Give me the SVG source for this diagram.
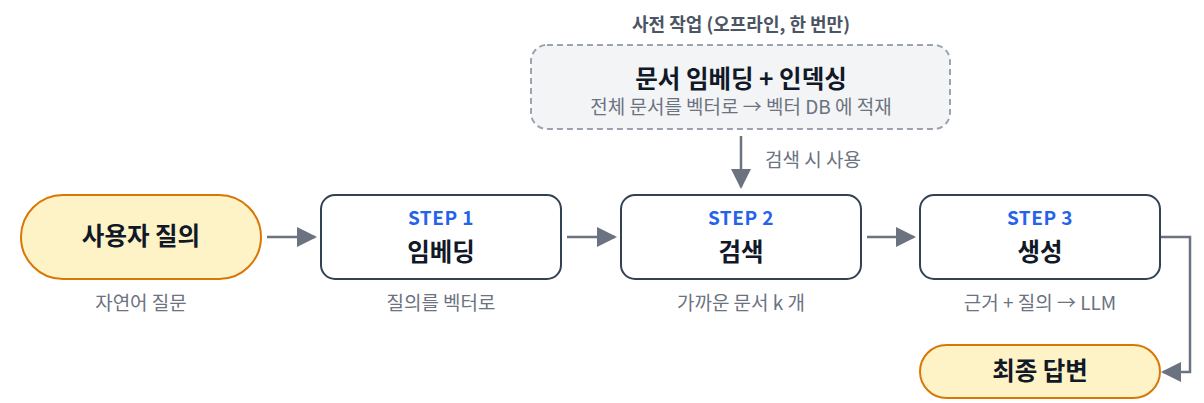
<svg xmlns="http://www.w3.org/2000/svg" width="1204" height="403" viewBox="0 0 1204 403">
<style>
text{font-family:"Noto Sans CJK KR","Noto Sans",sans-serif;text-anchor:middle}
.pill{fill:#fef3c7;stroke:#d97706;stroke-width:2}
.box{fill:#ffffff;stroke:#334155;stroke-width:2}
.pre{fill:#f3f4f6;stroke:#9ca3af;stroke-width:2;stroke-dasharray:6 4}
.title{font-size:24.5px;font-weight:700;fill:#111827}
.step{font-size:19px;font-weight:700;fill:#2563eb;letter-spacing:0.5px}
.sub{font-size:19px;fill:#6b7280}
.note{font-size:18px;font-weight:700;fill:#4b5563}
.conn{fill:none;stroke:#6b7280;stroke-width:2.5}
</style>
<defs>
<marker id="ah2" viewBox="0 0 10 10" refX="9" refY="5" markerWidth="20" markerHeight="20" markerUnits="userSpaceOnUse" orient="auto">
<path d="M0,0 L10,5 L0,10 z" fill="#6b7280"/>
</marker>
</defs>
<text class="note" x="741" y="31">사전 작업 (오프라인, 한 번만)</text>
<g id="pre">
<rect class="pre" x="531" y="45" width="419" height="84" rx="16"/>
<text class="title" x="741" y="88">문서 임베딩 + 인덱싱</text>
<text class="sub" x="741" y="114">전체 문서를 벡터로 → 벡터 DB 에 적재</text>
</g>
<g id="connectors">
<path class="conn" d="M741,136 V187" marker-end="url(#ah2)"/>
<path class="conn" d="M267,237 H315" marker-end="url(#ah2)"/>
<path class="conn" d="M567,237 H615" marker-end="url(#ah2)"/>
<path class="conn" d="M867,237 H914" marker-end="url(#ah2)"/>
<path class="conn" d="M1161,237 H1190 V372 H1163" marker-end="url(#ah2)"/>
<text class="sub" x="765" y="167" style="text-anchor:start">검색 시 사용</text>
</g>
<g id="user">
<rect class="pill" x="21" y="195" width="240" height="84" rx="42"/>
<text class="title" x="141" y="245">사용자 질의</text>
<text class="sub" x="141" y="310">자연어 질문</text>
</g>
<g id="step1">
<rect class="box" x="321" y="195" width="240" height="84" rx="14"/>
<text class="step" x="441" y="225">STEP 1</text>
<text class="title" x="441" y="261">임베딩</text>
<text class="sub" x="441" y="310">질의를 벡터로</text>
</g>
<g id="step2">
<rect class="box" x="621" y="195" width="240" height="84" rx="14"/>
<text class="step" x="741" y="225">STEP 2</text>
<text class="title" x="741" y="261">검색</text>
<text class="sub" x="741" y="310">가까운 문서 k 개</text>
</g>
<g id="step3">
<rect class="box" x="920" y="195" width="240" height="84" rx="14"/>
<text class="step" x="1040" y="225">STEP 3</text>
<text class="title" x="1040" y="261">생성</text>
<text class="sub" x="1040" y="310">근거 + 질의 → LLM</text>
</g>
<g id="final">
<rect class="pill" x="920" y="345" width="240" height="53" rx="26.5"/>
<text class="title" x="1040" y="380">최종 답변</text>
</g>
</svg>
